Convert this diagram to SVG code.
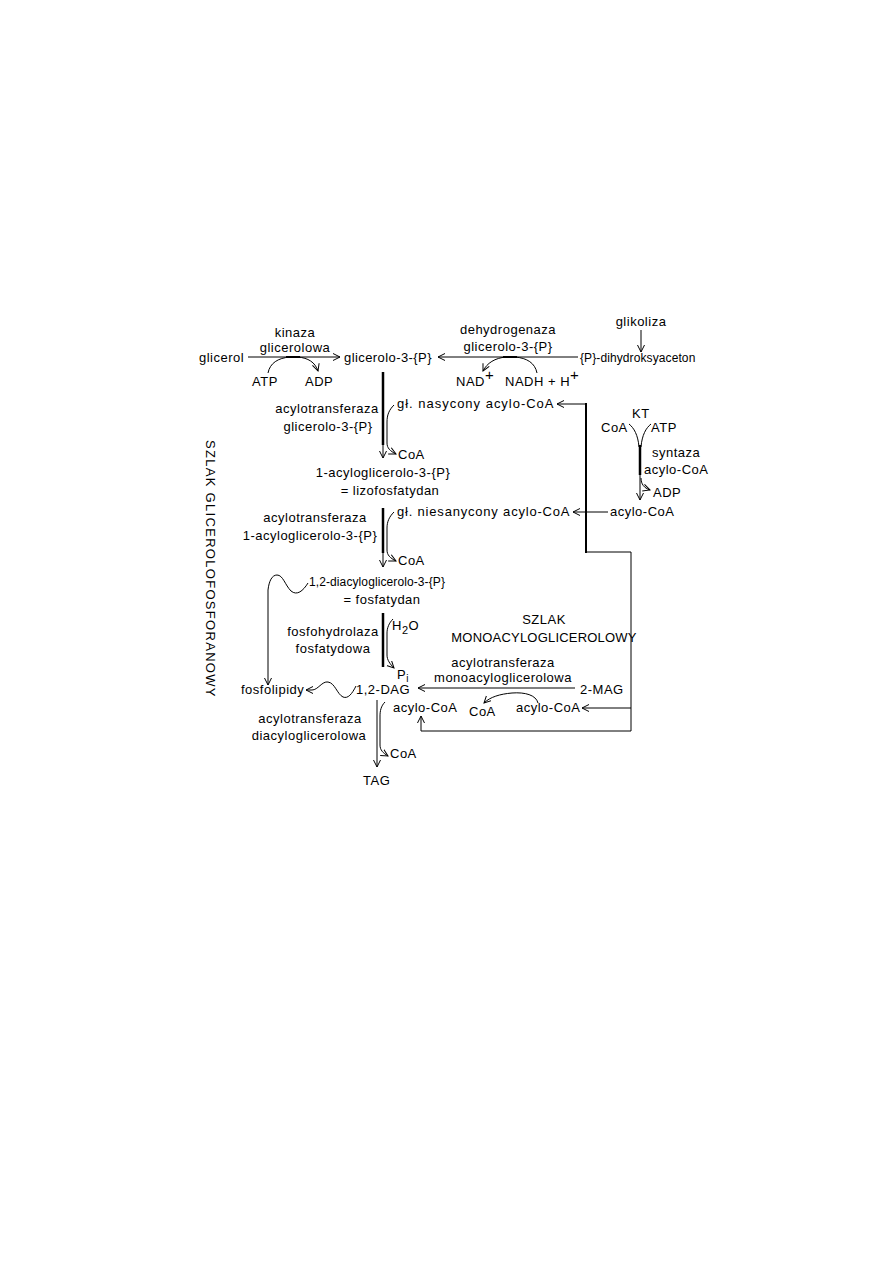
<svg xmlns="http://www.w3.org/2000/svg" width="893" height="1263" viewBox="0 0 893 1263">
<style>
text{font-family:"Liberation Sans",Arial,sans-serif;font-size:13px;fill:#000;letter-spacing:0.5px}
.m{text-anchor:middle}
.n{font-size:12px;letter-spacing:0}
.ln{fill:none;stroke:#000;stroke-width:1}
.tk{fill:none;stroke:#000;stroke-width:2.5}
.md{fill:none;stroke:#000;stroke-width:2}
</style>
<defs>
<marker id="ah" markerUnits="userSpaceOnUse" markerWidth="10" markerHeight="10" refX="7" refY="4" orient="auto">
<path d="M0,0.5 L7,4 L0,7.5" fill="none" stroke="#000" stroke-width="1"/>
</marker>
</defs>
<rect width="893" height="1263" fill="#fff"/>

<g id="connectors">
<line class="ln" x1="248" y1="357" x2="340" y2="357" marker-end="url(#ah)"/>
<line class="md" x1="286" y1="357" x2="300" y2="357"/>
<path class="ln" d="M268,373 C270,363 278,358 290,357"/>
<path class="ln" d="M298,357 C308,358 315,362 318,371" marker-end="url(#ah)"/>
<line class="ln" x1="578" y1="357" x2="438" y2="357" marker-end="url(#ah)"/>
<line class="md" x1="503" y1="357" x2="517" y2="357"/>
<path class="ln" d="M537,373 C535,363 527,358 515,357"/>
<path class="ln" d="M506,357 C495,358 487,363 483,371" marker-end="url(#ah)"/>
<line class="ln" x1="641" y1="330" x2="641" y2="352" marker-end="url(#ah)"/>

<line class="ln" x1="383" y1="372" x2="383" y2="458" marker-end="url(#ah)"/>
<line class="tk" x1="383" y1="372" x2="383" y2="445"/>
<path class="ln" d="M394,405 C389,410 387,415 387,422 L387,443 C387,448 390,451 396,454" marker-end="url(#ah)"/>

<line class="ln" x1="383" y1="508" x2="383" y2="567" marker-end="url(#ah)"/>
<line class="tk" x1="383" y1="508" x2="383" y2="553"/>
<path class="ln" d="M394,512 C389,517 387,522 387,528 L387,550 C387,555 390,558 396,561" marker-end="url(#ah)"/>

<path class="ln" d="M308,583 C303,591 297,596 291,591 C285,585 283,575 277,575 C272,575 269,581 268,590 L268,685" marker-end="url(#ah)"/>

<line class="tk" x1="383" y1="613" x2="383" y2="667"/>
<path class="ln" d="M393,619 C389,623 387,628 387,633 L387,655 C387,660 390,664 394,668" marker-end="url(#ah)"/>

<path class="ln" d="M356,686 C352,694 348,699 343,697 C337,694 335,683 328,682 C322,681 318,690 312,690 L306,690" marker-end="url(#ah)"/>

<line class="ln" x1="575" y1="688" x2="418" y2="688" marker-end="url(#ah)"/>
<path class="ln" d="M538,703 C536,695 525,692 512,693 C500,694 490,697 484,703" marker-end="url(#ah)"/>

<line class="ln" x1="377" y1="700" x2="377" y2="767" marker-end="url(#ah)"/>
<path class="ln" d="M385,702 C381,706 380,711 380,716 L380,745 C380,750 383,753 388,756" marker-end="url(#ah)"/>

<path class="ln" d="M586,404 L557,404" marker-end="url(#ah)"/>
<line class="md" x1="586" y1="403" x2="586" y2="553"/>
<polyline class="ln" points="586,552 631,552 631,731 421,731 421,716" marker-end="url(#ah)"/>
<line class="ln" x1="631" y1="708" x2="582" y2="708" marker-end="url(#ah)"/>
<line class="ln" x1="608" y1="512" x2="573" y2="512" marker-end="url(#ah)"/>

<path class="ln" d="M629,424 C634,428 638,435 639,447"/>
<path class="ln" d="M651,424 C646,428 642,435 641,447"/>
<line class="ln" x1="640" y1="445" x2="640" y2="500" marker-end="url(#ah)"/>
<line class="tk" x1="640" y1="445" x2="640" y2="475"/>
<path class="ln" d="M641,478 C641,484 644,488 650,490" marker-end="url(#ah)"/>
</g>

<g id="glicerol"><text x="199" y="362">glicerol</text></g>
<g id="kinaza"><text class="m" x="295" y="337">kinaza</text><text class="m" x="295" y="352">glicerolowa</text></g>
<g id="atp1"><text x="252" y="386">ATP</text></g>
<g id="adp1"><text x="305" y="386">ADP</text></g>
<g id="glicerolo3p"><text x="344" y="362" textLength="88">glicerolo-3-{P}</text></g>
<g id="dehydrogenaza"><text class="m" x="508" y="334">dehydrogenaza</text><text class="m" x="508" y="351">glicerolo-3-{P}</text></g>
<g id="dhap"><text class="n" x="580" y="362" style="letter-spacing:0.1px">{P}-dihydroksyaceton</text></g>
<g id="glikoliza"><text class="m" x="641" y="326">glikoliza</text></g>
<g id="nad"><text x="456" y="386">NAD<tspan font-size="15" dy="-6">+</tspan></text></g>
<g id="nadh"><text x="505" y="386">NADH + H<tspan font-size="15" dy="-6">+</tspan></text></g>

<g id="nasycony"><text x="397" y="408" textLength="157">gł. nasycony acylo-CoA</text></g>
<g id="enz1"><text class="m" x="327" y="413">acylotransferaza</text><text class="m" x="328" y="431">glicerolo-3-{P}</text></g>
<g id="coa1"><text x="398" y="459">CoA</text></g>
<g id="lizofosfatydan"><text class="m" x="383" y="477">1-acyloglicerolo-3-{P}</text><text class="m" x="390" y="495">= lizofosfatydan</text></g>

<g id="niesanycony"><text x="397" y="516" textLength="173">gł. niesanycony acylo-CoA</text></g>
<g id="acylocoa-kt"><text x="610" y="516">acylo-CoA</text></g>
<g id="enz2"><text class="m" x="315" y="522">acylotransferaza</text><text class="m" x="310" y="540">1-acyloglicerolo-3-{P}</text></g>
<g id="coa2"><text x="398" y="565">CoA</text></g>
<g id="fosfatydan"><text class="n" x="309" y="586" style="letter-spacing:0.1px">1,2-diacyloglicerolo-3-{P}</text><text class="m" x="382" y="604">= fosfatydan</text></g>

<g id="h2o"><text x="392" y="630">H<tspan font-size="11" dy="4">2</tspan><tspan dy="-4">O</tspan></text></g>
<g id="pi"><text x="397" y="679">P<tspan font-size="10" dy="3">i</tspan></text></g>
<g id="enz3"><text class="m" x="333" y="636">fosfohydrolaza</text><text class="m" x="333" y="653">fosfatydowa</text></g>

<g id="szlak-mag"><text class="m" x="544" y="624">SZLAK</text><text class="m" x="544" y="642" style="letter-spacing:0.2px">MONOACYLOGLICEROLOWY</text></g>
<g id="enz-mag"><text class="m" x="503" y="667">acylotransferaza</text><text class="m" x="503" y="682">monoacyloglicerolowa</text></g>

<g id="fosfolipidy"><text x="241" y="694">fosfolipidy</text></g>
<g id="dag"><text x="356" y="694">1,2-DAG</text></g>
<g id="mag"><text x="580" y="694">2-MAG</text></g>
<g id="acylocoa-dag"><text x="393" y="712">acylo-CoA</text></g>
<g id="coa-mag"><text x="469" y="716">CoA</text></g>
<g id="acylocoa-mag"><text x="516" y="712">acylo-CoA</text></g>

<g id="enz4"><text class="m" x="310" y="723">acylotransferaza</text><text class="m" x="309" y="740">diacyloglicerolowa</text></g>
<g id="coa4"><text x="390" y="758">CoA</text></g>
<g id="tag"><text x="363" y="785">TAG</text></g>

<g id="kt"><text x="632" y="418">KT</text></g>
<g id="coa-kt"><text x="601" y="432">CoA</text></g>
<g id="atp-kt"><text x="651" y="432">ATP</text></g>
<g id="syntaza"><text x="652" y="457">syntaza</text><text x="644" y="474">acylo-CoA</text></g>
<g id="adp-kt"><text x="653" y="497">ADP</text></g>

<g id="szlak-glic"><text transform="translate(206,440) rotate(90)" textLength="257" font-size="14">SZLAK GLICEROLOFOSFORANOWY</text></g>
</svg>
